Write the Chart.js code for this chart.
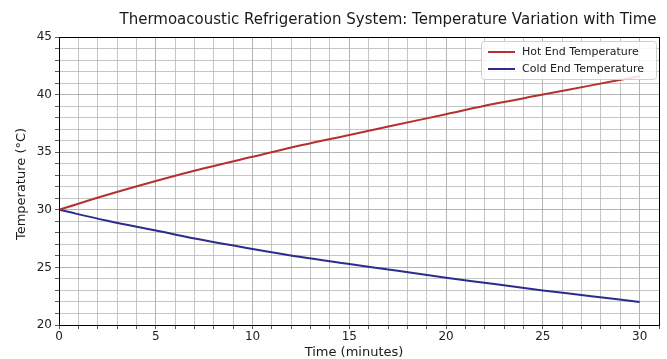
<!DOCTYPE html>
<html lang="en">
<head>
    <meta charset="UTF-8">
    <title>Thermoacoustic Refrigeration System</title>
    <script src="https://cdn.jsdelivr.net/npm/chart.js"></script>
    <style>
        * { margin: 0; padding: 0; box-sizing: border-box; }
        body { background: #fff; width: 667px; height: 359px; overflow: hidden; }
        .wrap { position: relative; width: 667px; height: 359px; }
    </style>
</head>
<body>
    <div class="wrap">
        <canvas id="tempChart" width="667" height="359"></canvas>
    </div>

    <script>
        // Data
        const times = [0, 2.5, 5, 7.5, 10, 12.5, 15, 17.5, 20, 22.5, 25, 27.5, 30];
        const hotTemps = [30.0, 31.3, 32.5, 33.6, 34.6, 35.6, 36.5, 37.4, 38.3, 39.2, 40.0, 40.8, 41.6];
        const coldTemps = [30.0, 29.05, 28.2, 27.35, 26.6, 25.9, 25.3, 24.7, 24.1, 23.55, 23.0, 22.5, 22.0];
        const seriesNames = ['Hot End Temperature', 'Cold End Temperature'];
        const chartTitle = 'Thermoacoustic Refrigeration System: Temperature Variation with Time';
        const xTitle = 'Time (minutes)';
        const yTitle = 'Temperature (°C)';

        const FONT = "'DejaVu Sans', sans-serif";

        // Title, axis titles, frame and legend drawn by hand
        const decorPlugin = {
            id: 'decor',
            afterDraw(chart) {
                const { ctx, chartArea: a } = chart;
                ctx.save();

                // frame
                ctx.strokeStyle = '#000';
                ctx.lineWidth = 1;
                ctx.strokeRect(a.left + 0.5, a.top + 0.5, a.right - a.left, a.bottom - a.top);

                // title
                ctx.fillStyle = '#1a1a1a';
                ctx.font = '15px ' + FONT;
                ctx.textAlign = 'center';
                ctx.textBaseline = 'middle';
                ctx.fillText(chartTitle, 388, 20);

                // axis titles
                ctx.font = '13px ' + FONT;
                ctx.fillText(xTitle, 354, 353);
                ctx.save();
                ctx.translate(22, 184);
                ctx.rotate(-Math.PI / 2);
                ctx.fillText(yTitle, 0, 0);
                ctx.restore();

                // legend
                const lx = 481, ly = 41, lw = 175, lh = 38;
                ctx.fillStyle = 'rgba(255,255,255,0.85)';
                ctx.strokeStyle = '#d0d0d0';
                ctx.lineWidth = 1;
                ctx.beginPath();
                ctx.roundRect(lx + 0.5, ly + 0.5, lw, lh, 3);
                ctx.fill();
                ctx.stroke();
                ctx.font = '11px ' + FONT;
                ctx.textAlign = 'left';
                chart.data.datasets.forEach((ds, i) => {
                    const yy = ly + 11 + i * 17;
                    ctx.strokeStyle = ds.borderColor;
                    ctx.lineWidth = 2;
                    ctx.beginPath();
                    ctx.moveTo(lx + 7, yy);
                    ctx.lineTo(lx + 34, yy);
                    ctx.stroke();
                    ctx.fillStyle = '#222';
                    ctx.fillText(ds.label, lx + 41, yy);
                });
                ctx.restore();
            }
        };

        const gridColor = ctx => (ctx.tick && ctx.tick.value % 5 === 0) ? '#a0a0a0' : '#b8b8b8';

        new Chart(document.getElementById('tempChart'), {
            type: 'line',
            data: {
                datasets: [
                    {
                        label: seriesNames[0],
                        data: times.map((t, i) => ({ x: t, y: hotTemps[i] })),
                        borderColor: '#b5312f',
                        borderWidth: 2,
                        pointRadius: 0,
                        tension: 0.4,
                        fill: false
                    },
                    {
                        label: seriesNames[1],
                        data: times.map((t, i) => ({ x: t, y: coldTemps[i] })),
                        borderColor: '#2c2c8c',
                        borderWidth: 2,
                        pointRadius: 0,
                        tension: 0.4,
                        fill: false
                    }
                ]
            },
            options: {
                responsive: false,
                animation: false,
                layout: { padding: { left: 0, right: 8, top: 37, bottom: 0 } },
                plugins: {
                    legend: { display: false },
                    tooltip: { enabled: false }
                },
                scales: {
                    x: {
                        type: 'linear',
                        min: 0,
                        max: 31,
                        afterFit: s => { s.height = 34; },
                        ticks: {
                            stepSize: 1,
                            autoSkip: false,
                            maxRotation: 0,
                            color: '#222',
                            font: { family: FONT, size: 12 },
                            padding: 1,
                            callback: v => (v % 5 === 0 && v <= 30) ? v : ''
                        },
                        grid: { color: gridColor, lineWidth: 0.8, tickLength: 4, tickColor: '#333' },
                        border: { color: '#000' }
                    },
                    y: {
                        min: 20,
                        max: 45,
                        afterFit: s => { s.width = 59; },
                        ticks: {
                            stepSize: 1,
                            autoSkip: false,
                            color: '#222',
                            font: { family: FONT, size: 12 },
                            padding: 3,
                            callback: v => (v % 5 === 0) ? v : ''
                        },
                        grid: { color: gridColor, lineWidth: 0.8, tickLength: 4, tickColor: '#333' },
                        border: { color: '#000' }
                    }
                }
            },
            plugins: [decorPlugin]
        });
    </script>
</body>
</html>
